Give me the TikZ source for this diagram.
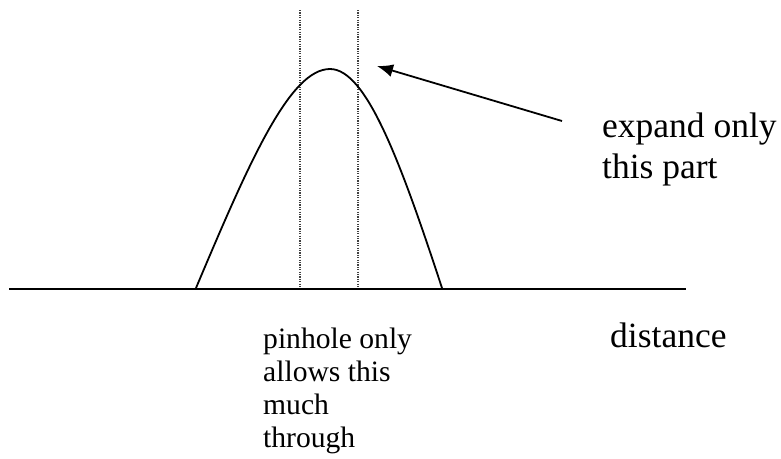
\documentclass[tikz,border=0pt]{standalone}
\usepackage{fontspec}
\setmainfont{Liberation Serif}
\usetikzlibrary{arrows.meta}
\begin{document}
\begin{tikzpicture}[x=1pt,y=-1pt,
  curveline/.style={line width=1.8pt},
  axisline/.style={line width=2.2pt},
  guideline/.style={line width=1.1pt, dash pattern=on 1.2pt off 1.2pt, black!75},
  pointer/.style={line width=1.8pt, -{Latex[length=16pt,width=13pt]}},
  bigtext/.style={anchor=base west, inner sep=0pt, align=left, font=\fontsize{35.5}{41}\selectfont},
  smalltext/.style={anchor=base west, inner sep=0pt, align=left, font=\fontsize{29.6}{33}\selectfont}]
\useasboundingbox (0,0) rectangle (781,458);
% axis
\coordinate (axL) at (9,289);
\coordinate (axR) at (686,289);
\draw[axisline] (axL) -- (axR);
% pinhole guides
\coordinate (g1t) at (300,10);
\coordinate (g1b) at (300,288);
\coordinate (g2t) at (358,10);
\coordinate (g2b) at (358,288);
\draw[guideline] (g1t) -- (g1b);
\draw[guideline] (g2t) -- (g2b);
% curve
\coordinate (baseL) at (196,288);
\coordinate (peak) at (330,69);
\coordinate (baseR) at (442,288);
\draw[curveline] (baseL) .. controls (250,160) and (290,69) .. (peak)
  .. controls (366,69) and (400,160) .. (baseR);
% arrow
\coordinate (arrS) at (562,121);
\coordinate (arrE) at (377,66);
\draw[pointer] (arrS) -- (arrE);
% labels (base anchor = baseline of the last line)
\node[bigtext] (expand) at (602,178) {expand only\\this part};
\node[bigtext] (dist) at (610,347) {distance};
\node[smalltext] (pin) at (263,447) {pinhole only\\allows this\\much\\through};
\end{tikzpicture}
\end{document}
